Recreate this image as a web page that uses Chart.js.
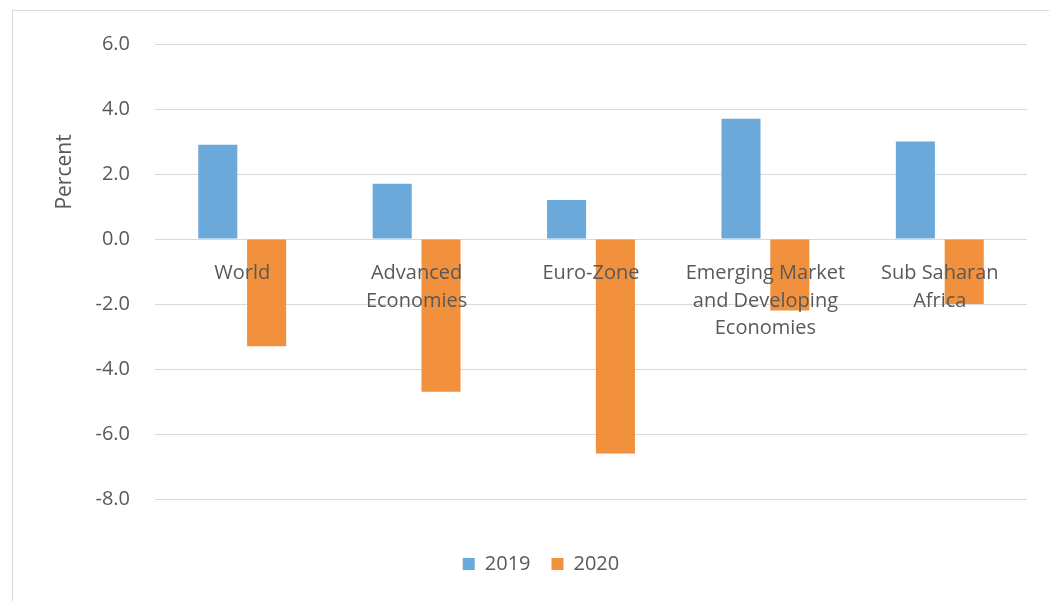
<!DOCTYPE html>
<html>
<head>
<meta charset="utf-8">
<script src="https://cdn.jsdelivr.net/npm/chart.js@4/dist/chart.umd.min.js"></script>
<style>
    body { margin: 0; background: #fff; }
    #wrap { position: relative; width: 1049px; height: 601px; }
    #frame {
        position: absolute; left: 12px; top: 10px; right: 0; bottom: 0;
        border-left: 1px solid #d9d9d9; border-top: 1px solid #d9d9d9;
    }
    #growthChart { position: absolute; left: 0; top: 0; }
</style>
</head>
<body>
<div id="wrap">
    <div id="frame"></div>
    <canvas id="growthChart" width="1049" height="601"></canvas>
</div>
<script>
// Growth by region, percent
const regions = [
    'World',
    ['Advanced', 'Economies'],
    'Euro-Zone',
    ['Emerging Market', 'and Developing', 'Economies'],
    ['Sub Saharan', 'Africa']
];
const growth2019 = [2.9, 1.7, 1.2, 3.7, 3.0];
const growth2020 = [-3.3, -4.7, -6.6, -2.2, -2.0];
const yTicks = [-8, -6, -4, -2, 0, 2, 4, 6];

const textColor = '#595959';
const fontFamily = "'Open Sans', 'Liberation Sans', sans-serif";

// Rotated axis title, sitting in the upper part of the axis like the Excel original
const percentTitle = {
    id: 'percentTitle',
    afterDraw(chart) {
        const ctx = chart.ctx;
        const area = chart.chartArea;
        ctx.save();
        ctx.translate(area.left - 90, area.top + 128);
        ctx.rotate(-Math.PI / 2);
        ctx.font = '21px ' + fontFamily;
        ctx.fillStyle = textColor;
        ctx.textAlign = 'center';
        ctx.textBaseline = 'middle';
        ctx.fillText('Percent', 0, 0);
        ctx.restore();
    }
};

new Chart(document.getElementById('growthChart').getContext('2d'), {
    type: 'bar',
    data: {
        labels: regions,
        datasets: [{
            label: '2019',
            data: growth2019,
            backgroundColor: '#6ba9db',
            barPercentage: 0.8,
            categoryPercentage: 0.56
        }, {
            label: '2020',
            data: growth2020,
            backgroundColor: '#f2913d',
            barPercentage: 0.8,
            categoryPercentage: 0.56
        }]
    },
    options: {
        responsive: false,
        animation: false,
        layout: {
            // left padding nudges the centred legend to the right
            padding: { top: 44, right: 22, bottom: 17, left: 55 }
        },
        scales: {
            x: {
                position: { y: 0 }, // category labels hang off the zero line
                grid: { display: false },
                border: { display: false },
                ticks: {
                    z: 1, // labels sit on top of the bars
                    color: textColor,
                    padding: 13,
                    maxRotation: 0,
                    autoSkip: false,
                    font: { family: fontFamily, size: 20, lineHeight: 1.375 }
                }
            },
            y: {
                min: -8,
                max: 6,
                afterFit(scale) { scale.width = 100; },
                afterBuildTicks(scale) { scale.ticks = yTicks.map(v => ({ value: v })); },
                grid: { color: '#d9d9d9', drawTicks: false },
                border: { display: false },
                ticks: {
                    color: textColor,
                    padding: 25,
                    font: { family: fontFamily, size: 20 },
                    callback: v => v.toFixed(1)
                }
            }
        },
        plugins: {
            legend: {
                position: 'bottom',
                title: { display: true, text: '', padding: { top: 0, bottom: 19.6 }, font: { size: 12 } },
                labels: {
                    color: textColor,
                    boxWidth: 12,
                    boxHeight: 12,
                    padding: 21,
                    font: { family: fontFamily, size: 20 }
                }
            },
            tooltip: { enabled: false }
        }
    },
    plugins: [percentTitle]
});
</script>
</body>
</html>
